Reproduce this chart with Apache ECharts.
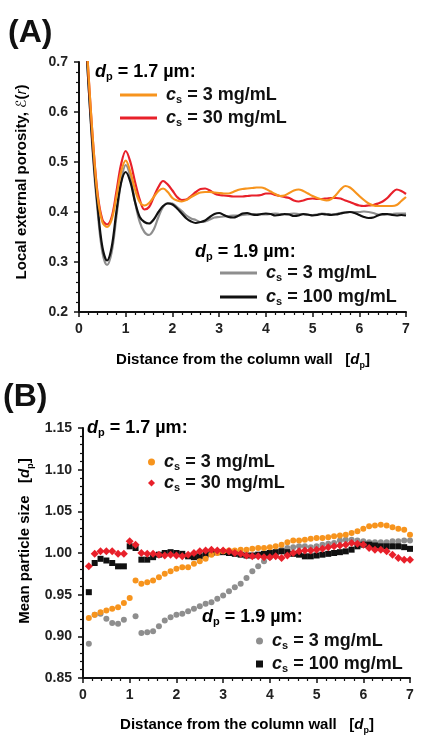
<!DOCTYPE html>
<html>
<head>
<meta charset="UTF-8">
<title>Porosity and particle size</title>
<script src="https://cdn.jsdelivr.net/npm/echarts@6/dist/echarts.min.js"></script>
<style>
  html, body { margin: 0; padding: 0; background: #fff; }
  #chart { width: 425px; height: 737px; }
</style>
</head>
<body>
<div id="chart"></div>
<script>
// ---- data (A): local external porosity vs distance from wall ----
var distA = [0, 0.1, 0.2, 0.3, 0.4, 0.5, 0.6, 0.7, 0.8, 0.9,
  1.0, 1.1, 1.2, 1.3, 1.4, 1.5, 1.6, 1.7, 1.8, 1.9,
  2.0, 2.1, 2.2, 2.3, 2.4, 2.5, 2.6, 2.7, 2.8, 2.9,
  3.0, 3.1, 3.2, 3.3, 3.4, 3.5, 3.6, 3.7, 3.8, 3.9,
  4.0, 4.1, 4.2, 4.3, 4.4, 4.5, 4.6, 4.7, 4.8, 4.9,
  5.0, 5.1, 5.2, 5.3, 5.4, 5.5, 5.6, 5.7, 5.8, 5.9,
  6.0, 6.1, 6.2, 6.3, 6.4, 6.5, 6.6, 6.7, 6.8, 6.9, 7.0];
var por17_3 = [0.95, 0.84, 0.68, 0.54, 0.43, 0.38, 0.37, 0.385, 0.43, 0.48,
  0.503, 0.48, 0.445, 0.42, 0.413, 0.418, 0.43, 0.442, 0.447, 0.44,
  0.428, 0.423, 0.421, 0.424, 0.43, 0.435, 0.439, 0.44, 0.44, 0.439,
  0.438, 0.437, 0.437, 0.44, 0.444, 0.446, 0.447, 0.448, 0.449, 0.449,
  0.446, 0.441, 0.436, 0.432, 0.433, 0.438, 0.443, 0.445, 0.442, 0.437,
  0.432, 0.428, 0.425, 0.423, 0.426, 0.434, 0.445, 0.452, 0.449, 0.441,
  0.432, 0.424, 0.417, 0.413, 0.412, 0.412, 0.412, 0.412, 0.414, 0.422, 0.43];
var por17_30 = [0.95, 0.84, 0.68, 0.54, 0.435, 0.385, 0.375, 0.39, 0.44, 0.495,
  0.522, 0.5, 0.46, 0.425, 0.405, 0.41, 0.43, 0.45, 0.462, 0.455,
  0.443, 0.43, 0.424, 0.425, 0.432, 0.44, 0.446, 0.447, 0.443, 0.437,
  0.434, 0.433, 0.432, 0.431, 0.431, 0.431, 0.432, 0.433, 0.433, 0.434,
  0.437, 0.437, 0.434, 0.432, 0.43, 0.428, 0.423, 0.421, 0.423, 0.426,
  0.427, 0.426, 0.426, 0.427, 0.428, 0.428, 0.427, 0.423, 0.42, 0.416,
  0.413, 0.412, 0.413, 0.414, 0.417, 0.421, 0.428, 0.438, 0.445, 0.442, 0.436];
var por19_3 = [0.95, 0.82, 0.66, 0.51, 0.4, 0.32, 0.294, 0.32, 0.39, 0.46,
  0.494, 0.47, 0.42, 0.38, 0.36, 0.354, 0.365, 0.39, 0.41, 0.418,
  0.417, 0.41, 0.402, 0.393, 0.387, 0.384, 0.38, 0.381, 0.385, 0.389,
  0.39, 0.391, 0.392, 0.393, 0.393, 0.394, 0.395, 0.396, 0.396, 0.395,
  0.395, 0.396, 0.397, 0.396, 0.395, 0.396, 0.397, 0.396, 0.395, 0.394,
  0.394, 0.395, 0.397, 0.396, 0.395, 0.396, 0.398, 0.399, 0.4, 0.4,
  0.4, 0.401, 0.4, 0.398, 0.395, 0.394, 0.395, 0.396, 0.397, 0.397, 0.397];
var por19_100 = [0.95, 0.82, 0.66, 0.52, 0.41, 0.33, 0.303, 0.33, 0.4, 0.458,
  0.48, 0.46, 0.42, 0.39, 0.38, 0.377, 0.385, 0.4, 0.412, 0.417,
  0.415, 0.407, 0.397, 0.387, 0.381, 0.378, 0.38, 0.383, 0.39, 0.396,
  0.398, 0.394, 0.39, 0.389, 0.392, 0.397, 0.398, 0.395, 0.394, 0.396,
  0.397, 0.396, 0.393, 0.394, 0.396, 0.395, 0.392, 0.393, 0.396, 0.395,
  0.393, 0.394, 0.396, 0.395, 0.394, 0.395, 0.397, 0.399, 0.4, 0.398,
  0.394, 0.39, 0.388, 0.389, 0.393, 0.396, 0.396, 0.394, 0.393, 0.394, 0.393];

// ---- data (B): mean particle size vs distance from wall ----
var distB = [0.125, 0.25, 0.375, 0.5, 0.625, 0.75, 0.875, 1.0,
  1.125, 1.25, 1.375, 1.5, 1.625, 1.75, 1.875, 2.0,
  2.125, 2.25, 2.375, 2.5, 2.625, 2.75, 2.875, 3.0,
  3.125, 3.25, 3.375, 3.5, 3.625, 3.75, 3.875, 4.0,
  4.125, 4.25, 4.375, 4.5, 4.625, 4.75, 4.875, 5.0,
  5.125, 5.25, 5.375, 5.5, 5.625, 5.75, 5.875, 6.0,
  6.125, 6.25, 6.375, 6.5, 6.625, 6.75, 6.875, 7.0];
var size17_3 = [0.922, 0.926, 0.929, 0.931, 0.933, 0.935, 0.940, 0.946,
  0.967, 0.963, 0.965, 0.967, 0.971, 0.975, 0.978, 0.981,
  0.983, 0.983, 0.987, 0.990, 0.993, 0.998, 1.000, 1.002,
  1.003, 1.003, 1.004, 1.004, 1.005, 1.006, 1.006, 1.007,
  1.008, 1.010, 1.013, 1.015, 1.015, 1.016, 1.017, 1.018,
  1.018, 1.019, 1.020, 1.021, 1.022, 1.024, 1.026, 1.029,
  1.032, 1.033, 1.034, 1.033, 1.031, 1.029, 1.028, 1.022];
var size17_30 = [0.984, 0.999, 1.002, 1.002, 1.002, 0.999, 0.999, 1.014,
  1.010, 1.000, 0.999, 0.999, 0.998, 0.997, 0.998, 0.997,
  0.996, 0.998, 1.000, 1.002, 1.003, 1.004, 1.003, 1.003,
  1.002, 1.000, 0.999, 0.997, 0.996, 0.996, 0.995, 0.995,
  0.996, 0.994, 0.997, 1.000, 1.002, 1.003, 1.003, 1.004,
  1.005, 1.007, 1.008, 1.009, 1.010, 1.012, 1.011, 1.010,
  1.006, 1.004, 1.004, 1.002, 0.998, 0.994, 0.992, 0.992];
var size19_3 = [0.891, 0.926, 0.927, 0.921, 0.916, 0.915, 0.920, null,
  0.924, 0.904, 0.905, 0.906, 0.912, 0.919, 0.923, 0.926,
  0.927, 0.930, 0.933, 0.936, 0.939, 0.941, 0.945, 0.949,
  0.954, 0.959, 0.963, 0.970, 0.978, 0.984, 0.990, 0.995,
  1.000, 1.004, 1.006, 1.007, 1.008, 1.008, 1.007, 1.008,
  1.010, 1.011, 1.012, 1.015, 1.016, 1.016, 1.015, 1.014,
  1.013, 1.013, 1.013, 1.013, 1.014, 1.014, 1.015, 1.015];
var size19_100 = [0.953, 0.988, 0.993, 0.991, 0.988, 0.984, 0.984, 1.008,
  1.006, 0.992, 0.992, 0.995, 0.998, 1.000, 1.001, 1.000,
  0.999, 0.996, 0.995, 0.996, 0.998, 1.000, 1.001, 1.001,
  1.000, 0.999, 0.998, 0.997, 0.997, 0.998, 0.999, 1.000,
  1.001, 1.002, 1.001, 0.999, 0.998, 0.996, 0.996, 0.997,
  0.998, 0.999, 1.000, 1.001, 1.002, 1.004, 1.008, 1.010,
  1.010, 1.009, 1.008, 1.008, 1.008, 1.008, 1.007, 1.005];

var ticksA = ['0.2', '0.3', '0.4', '0.5', '0.6', '0.7'];
var ticksB = ['0.85', '0.90', '0.95', '1.00', '1.05', '1.10', '1.15'];

var FONT = '"Liberation Sans", Arial, sans-serif';
var ORANGE = '#f7941d', RED = '#e8202a', GREY = '#8e8e8e', BLACK = '#111111';

function pairs(xs, ys) {
  var out = [];
  for (var i = 0; i < xs.length; i++) {
    if (ys[i] != null) out.push([xs[i], ys[i]]);
  }
  return out;
}

// rich text styles shared by legends and titles
function richSet(size) {
  return {
    i: { fontFamily: FONT, fontSize: size, fontWeight: 'bold', fontStyle: 'italic', color: '#111', lineHeight: 20 },
    s: { fontFamily: FONT, fontSize: Math.round(size * 0.6), fontWeight: 'bold', color: '#111', lineHeight: 6, verticalAlign: 'bottom' },
    t: { fontFamily: FONT, fontSize: size, fontWeight: 'bold', color: '#111', lineHeight: 20 },
    e: { fontFamily: '"DejaVu Sans", sans-serif', fontSize: size - 1, color: '#111', lineHeight: 20 },
    r: { fontFamily: FONT, fontSize: size, fontStyle: 'italic', color: '#111', lineHeight: 20 }
  };
}

var legendLabel = {
  'A 1.7 3': '{i|c}{s|s}{t| = 3 mg/mL}',
  'A 1.7 30': '{i|c}{s|s}{t| = 30 mg/mL}',
  'A 1.9 3': '{i|c}{s|s}{t| = 3 mg/mL}',
  'A 1.9 100': '{i|c}{s|s}{t| = 100 mg/mL}',
  'B 1.7 3': '{i|c}{s|s}{t| = 3 mg/mL}',
  'B 1.7 30': '{i|c}{s|s}{t| = 30 mg/mL}',
  'B 1.9 3': '{i|c}{s|s}{t| = 3 mg/mL}',
  'B 1.9 100': '{i|c}{s|s}{t| = 100 mg/mL}'
};

function xAxisCfg(idx) {
  return {
    type: 'value', gridIndex: idx, min: 0, max: 7, interval: 1,
    axisLine: { lineStyle: { color: '#111', width: 2 } },
    axisTick: { length: 5, lineStyle: { color: '#111', width: 1.5 } },
    minorTick: { show: true, splitNumber: 5, length: 3, lineStyle: { color: '#111', width: 1.2 } },
    splitLine: { show: false },
    axisLabel: { margin: 10, color: '#222', fontFamily: FONT, fontSize: 14, fontWeight: 'bold' }
  };
}

function yAxisCfg(idx, min, max, step, labels) {
  return {
    type: 'value', gridIndex: idx, min: min, max: max, interval: step,
    axisLine: { show: true, lineStyle: { color: '#111', width: 2 } },
    axisTick: { show: true, length: 5, lineStyle: { color: '#111', width: 1.5 } },
    minorTick: { show: true, splitNumber: 5, length: 3, lineStyle: { color: '#111', width: 1.2 } },
    splitLine: { show: false },
    axisLabel: {
      margin: 11, color: '#222', fontFamily: FONT, fontSize: 14, fontWeight: 'bold',
      formatter: function (v) {
        var k = Math.round((v - min) / step);
        return labels[k] || '';
      }
    }
  };
}

function lineSeries(name, ys, color) {
  return {
    name: name, type: 'line', xAxisIndex: 0, yAxisIndex: 0,
    data: pairs(distA, ys), color: color,
    showSymbol: false, symbol: 'none', smooth: 0.35, clip: true,
    lineStyle: { color: color, width: 2.2 }, z: 3
  };
}

function dotSeries(name, ys, color, symbol, size) {
  return {
    name: name, type: 'scatter', xAxisIndex: 1, yAxisIndex: 1,
    data: pairs(distB, ys), color: color,
    symbol: symbol, symbolSize: size,
    itemStyle: { color: color, opacity: 1 }
  };
}

function legendCfg(left, top, gap, w, h, items) {
  return {
    orient: 'vertical', left: left, top: top, itemGap: gap,
    itemWidth: w, itemHeight: h, padding: 0,
    data: items,
    itemStyle: { opacity: 1 },
    formatter: function (n) { return legendLabel[n]; },
    textStyle: { fontFamily: FONT, fontSize: 18, fontWeight: 'bold', color: '#111', padding: [0, 0, 0, 4], rich: richSet(18) }
  };
}

function headText(x, y, txt) {
  return {
    type: 'text', x: x, y: y,
    style: { text: '{i|d}{s|p}{t| = ' + txt + ' µm:}', rich: richSet(18), verticalAlign: 'middle', align: 'left' }
  };
}

var chart = echarts.init(document.getElementById('chart'));

var option = {
  animation: false,
  backgroundColor: '#fff',
  grid: [
    { left: 79, right: 19, top: 62, height: 250 },
    { left: 83, right: 15, top: 428, height: 250 }
  ],
  xAxis: [xAxisCfg(0), xAxisCfg(1)],
  yAxis: [
    yAxisCfg(0, 0.2, 0.7, 0.1, ticksA),
    yAxisCfg(1, 0.85, 1.15, 0.05, ticksB)
  ],
  legend: [
    legendCfg(120, 86, 4, 37, 3, [{ name: 'A 1.7 3', icon: 'rect' }, { name: 'A 1.7 30', icon: 'rect' }]),
    legendCfg(220, 264, 5, 37, 3, [{ name: 'A 1.9 3', icon: 'rect' }, { name: 'A 1.9 100', icon: 'rect' }]),
    legendCfg(148, 453, 2, 7, 7, [{ name: 'B 1.7 3', icon: 'circle' }, { name: 'B 1.7 30', icon: 'diamond' }]),
    legendCfg(256, 632, 4, 7, 7, [{ name: 'B 1.9 3', icon: 'circle' }, { name: 'B 1.9 100', icon: 'rect' }])
  ],
  series: [
    lineSeries('A 1.9 3', por19_3, GREY),
    lineSeries('A 1.9 100', por19_100, BLACK),
    lineSeries('A 1.7 30', por17_30, RED),
    lineSeries('A 1.7 3', por17_3, ORANGE),
    dotSeries('B 1.9 3', size19_3, GREY, 'circle', 6),
    dotSeries('B 1.9 100', size19_100, BLACK, 'rect', 6),
    dotSeries('B 1.7 3', size17_3, ORANGE, 'circle', 6),
    dotSeries('B 1.7 30', size17_30, RED, 'diamond', 8)
  ],
  graphic: [
    { type: 'text', x: 8, y: 33, style: { text: '(A)', fontFamily: FONT, fontSize: 32, fontWeight: 'bold', fill: '#111', verticalAlign: 'middle' } },
    { type: 'text', x: 3, y: 397, style: { text: '(B)', fontFamily: FONT, fontSize: 32, fontWeight: 'bold', fill: '#111', verticalAlign: 'middle' } },
    headText(95, 72, '1.7'),
    headText(195, 252, '1.9'),
    headText(87, 428, '1.7'),
    headText(202, 617, '1.9'),
    // axis titles
    {
      type: 'text', x: 243, y: 360,
      style: { text: '{t|Distance from the column wall   [}{i|d}{s|p}{t|]}', rich: richSet(15), align: 'center', verticalAlign: 'middle' }
    },
    {
      type: 'text', x: 247, y: 725,
      style: { text: '{t|Distance from the column wall   [}{i|d}{s|p}{t|]}', rich: richSet(15), align: 'center', verticalAlign: 'middle' }
    },
    {
      type: 'text', x: 22, y: 182, rotation: Math.PI / 2,
      style: { text: '{t|Local external porosity, }{e|ℰ}{t|(}{r|r}{t|)}', rich: richSet(15), align: 'center', verticalAlign: 'middle' }
    },
    {
      type: 'text', x: 25, y: 541, rotation: Math.PI / 2,
      style: { text: '{t|Mean particle size   [}{i|d}{s|p}{t|]}', rich: richSet(15), align: 'center', verticalAlign: 'middle' }
    }
  ]
};

chart.setOption(option);
</script>
</body>
</html>
